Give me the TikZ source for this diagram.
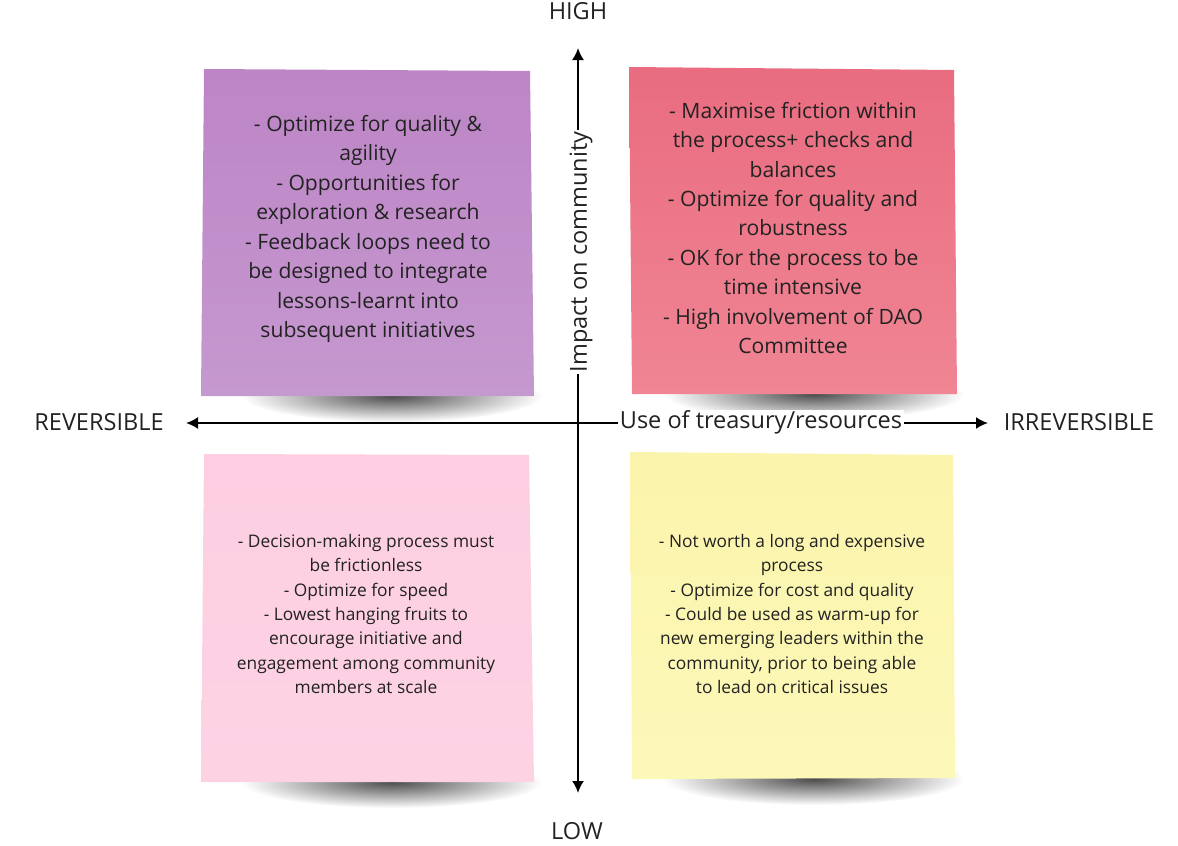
\documentclass[tikz,border=0pt]{standalone}
\usepackage{fontspec}
\setmainfont{Open Sans}
\usetikzlibrary{arrows.meta, fadings, calc}

\definecolor{purpletop}{HTML}{BD85C6}
\definecolor{purplebot}{HTML}{C598CF}
\definecolor{redtop}{HTML}{E96C80}
\definecolor{redbot}{HTML}{F08593}
\definecolor{pinktop}{HTML}{FDCEE1}
\definecolor{pinkbot}{HTML}{FDD3E4}
\definecolor{yellowtop}{HTML}{FBF4AC}
\definecolor{yellowbot}{HTML}{FCF8B8}
\definecolor{inkgrey}{HTML}{222222}

\tikzfading[name=shadowfade, inner color=transparent!30, outer color=transparent!100]

\begin{document}
\begin{tikzpicture}[x=1bp, y=-1bp,
	axislabel/.style={font=\fontsize{23.6}{28}\selectfont, text=inkgrey, inner xsep=1.5bp, inner ysep=0bp},
	bignote/.style={align=center, font=\fontsize{21.2}{29.6}\selectfont, text=inkgrey},
	smallnote/.style={align=center, font=\fontsize{17.4}{24.4}\selectfont, text=inkgrey},
	notecast/.style={fill=black, path fading=shadowfade}]
	\useasboundingbox (0,0) rectangle (1178,846);

	% shadows under the notes
	\fill[notecast]		(392,396) ellipse [x radius=150, y radius=26];
	\fill[notecast]		(814,394) ellipse [x radius=150, y radius=26];
	\fill[notecast]		(392,782) ellipse [x radius=150, y radius=26];
	\fill[notecast]		(814,779) ellipse [x radius=150, y radius=26];

	% sticky notes
	\shade[top color=purpletop, bottom color=purplebot]	(204,69) -- (530,71) -- (534,396) -- (201,396) -- cycle;
	\shade[top color=redtop, bottom color=redbot]		(629,67) -- (954,70) -- (957,394) -- (632,394) -- cycle;
	\shade[top color=pinktop, bottom color=pinkbot]		(204,454) -- (529,455) -- (534,782) -- (201,782) -- cycle;
	\shade[top color=yellowtop, bottom color=yellowbot]	(630,452) -- (953,455) -- (955,778) -- (632,779) -- cycle;

	\node[bignote] (purplenote) at (368,229) {- Optimize for quality \&\\agility\\- Opportunities for\\exploration \& research\\- Feedback loops need to\\be designed to integrate\\lessons-learnt into\\subsequent initiatives};
	\node[bignote] (rednote) at (793,228) {- Maximise friction within\\the process+ checks and\\balances\\- Optimize for quality and\\robustness\\- OK for the process to be\\time intensive\\- High involvement of DAO\\Committee};
	\node[smallnote] (pinknote) at (366,614) {- Decision-making process must\\be frictionless\\- Optimize for speed\\- Lowest hanging fruits to\\encourage initiative and\\engagement among community\\members at scale};
	\node[smallnote] (yellownote) at (792,614) {- Not worth a long and expensive\\process\\- Optimize for cost and quality\\- Could be used as warm-up for\\new emerging leaders within the\\community, prior to being able\\to lead on critical issues};

	% axes
	\coordinate (axistop) at (578,48);
	\coordinate (axisbottom) at (578,793);
	\coordinate (axisleft) at (186,423);
	\coordinate (axisright) at (988,423);
	\draw[line width=2bp, {Latex[length=12bp,width=12bp]}-{Latex[length=12bp,width=12bp]}]	(axisbottom) -- (axistop);
	\draw[line width=2bp, {Latex[length=12bp,width=12bp]}-{Latex[length=12bp,width=12bp]}]	(axisleft) -- (axisright);

	\node[axislabel, fill=white, rotate=90] (impact) at (581,252) {Impact on community};
	\node[axislabel, fill=white] (treasury) at (761,422) {Use of treasury/resources};
	\node[axislabel] (high) at (578,11) {HIGH};
	\node[axislabel] (low) at (577,831) {LOW};
	\node[axislabel] (reversible) at (99,422) {REVERSIBLE};
	\node[axislabel] (irreversible) at (1079,422) {IRREVERSIBLE};
\end{tikzpicture}
\end{document}
